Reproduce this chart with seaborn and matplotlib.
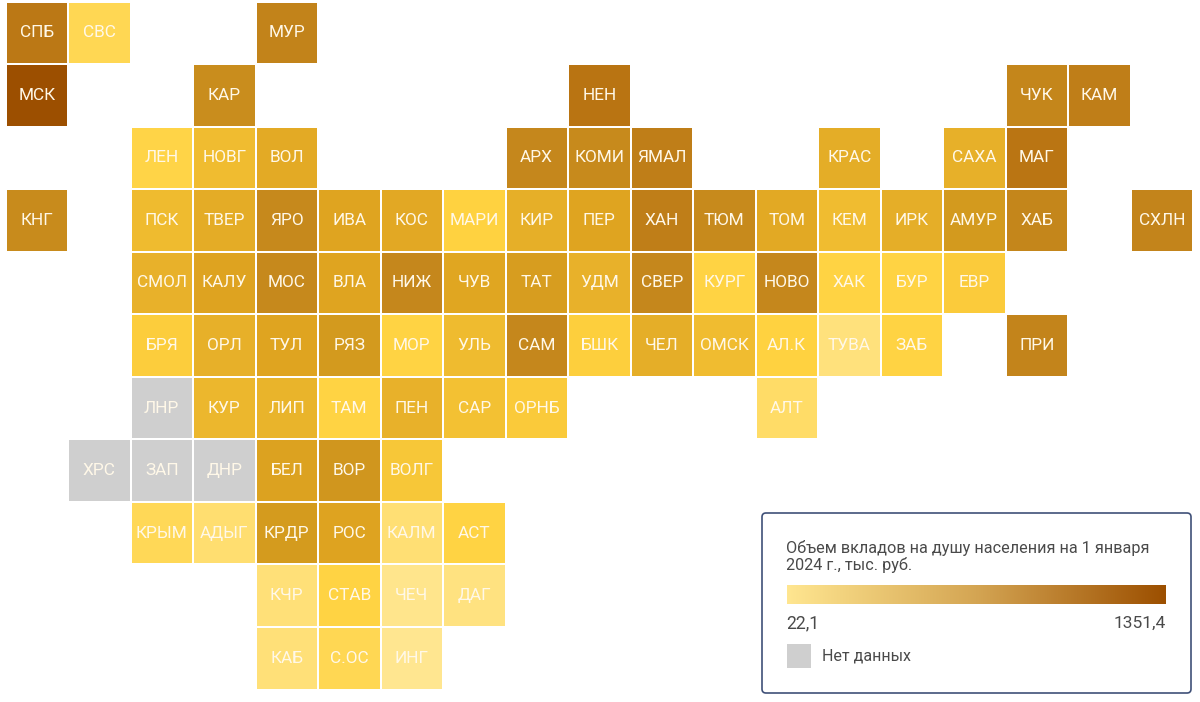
import matplotlib
matplotlib.use("Agg")
import matplotlib.pyplot as plt
import numpy as np
import pandas as pd
import seaborn as sns
from matplotlib.colors import LinearSegmentedColormap, ListedColormap
from matplotlib.patches import FancyBboxPatch, Rectangle

n = np.nan

# tile map rows, blank = no tile
labels_0 = ["СПБ", "СВС", "", "", "МУР", "", "", "", "", "", "", "", "", "", "", "", "", "", ""]
values_0 = [490, 100, n, n, 455, n, n, n, n, n, n, n, n, n, n, n, n, n, n]
labels_1 = ["МСК", "", "", "КАР", "", "", "", "", "", "НЕН", "", "", "", "", "", "", "ЧУК", "КАМ", ""]
values_1 = [1351.4, n, n, 420, n, n, n, n, n, 510, n, n, n, n, n, n, 445, 470, n]
labels_2 = ["", "", "ЛЕН", "НОВГ", "ВОЛ", "", "", "", "АРХ", "КОМИ", "ЯМАЛ", "", "", "КРАС", "", "САХА", "МАГ", "", ""]
values_2 = [n, n, 120, 200, 285, n, n, n, 440, 430, 470, n, n, 270, n, 255, 500, n, n]
labels_3 = ["КНГ", "", "ПСК", "ТВЕР", "ЯРО", "ИВА", "КОС", "МАРИ", "КИР", "ПЕР", "ХАН", "ТЮМ", "ТОМ", "КЕМ", "ИРК", "АМУР", "ХАБ", "", "СХЛН"]
values_3 = [425, n, 205, 275, 435, 320, 295, 130, 260, 320, 470, 430, 290, 200, 265, 365, 445, n, 450]
labels_4 = ["", "", "СМОЛ", "КАЛУ", "МОС", "ВЛА", "НИЖ", "ЧУВ", "ТАТ", "УДМ", "СВЕР", "КУРГ", "НОВО", "ХАК", "БУР", "ЕВР", "", "", ""]
values_4 = [n, n, 250, 325, 435, 320, 440, 310, 350, 250, 440, 125, 440, 125, 125, 150, n, n, n]
labels_5 = ["", "", "БРЯ", "ОРЛ", "ТУЛ", "РЯЗ", "МОР", "УЛЬ", "САМ", "БШК", "ЧЕЛ", "ОМСК", "АЛ.К", "ТУВА", "ЗАБ", "", "ПРИ", "", ""]
values_5 = [n, n, 145, 255, 320, 365, 125, 205, 440, 140, 265, 200, 130, 50, 125, n, 450, n, n]
labels_6 = ["", "", "ЛНР", "КУР", "ЛИП", "ТАМ", "ПЕН", "САР", "ОРНБ", "", "", "", "АЛТ", "", "", "", "", "", ""]
values_6 = [n, n, n, 220, 240, 125, 250, 185, 155, n, n, n, 75, n, n, n, n, n, n]
labels_7 = ["", "ХРС", "ЗАП", "ДНР", "БЕЛ", "ВОР", "ВОЛГ", "", "", "", "", "", "", "", "", "", "", "", ""]
values_7 = [n, n, n, n, 330, 385, 165, n, n, n, n, n, n, n, n, n, n, n, n]
labels_8 = ["", "", "КРЫМ", "АДЫГ", "КРДР", "РОС", "КАЛМ", "АСТ", "", "", "", "", "", "", "", "", "", "", ""]
values_8 = [n, n, 95, 65, 360, 325, 60, 125, n, n, n, n, n, n, n, n, n, n, n]
labels_9 = ["", "", "", "", "КЧР", "СТАВ", "ЧЕЧ", "ДАГ", "", "", "", "", "", "", "", "", "", "", ""]
values_9 = [n, n, n, n, 55, 125, 32, 48, n, n, n, n, n, n, n, n, n, n, n]
labels_10 = ["", "", "", "", "КАБ", "С.ОС", "ИНГ", "", "", "", "", "", "", "", "", "", "", "", ""]
values_10 = [n, n, n, n, 58, 100, 22.1, n, n, n, n, n, n, n, n, n, n, n, n]

no_data = ["ЛНР", "ХРС", "ЗАП", "ДНР"]

v_min, v_max = 22.1, 1351.4
legend_title = "Объем вкладов на душу населения на 1 января\n2024 г., тыс. руб."
no_data_label = "Нет данных"

GRAY = "#cfcfcf"
TEXT = "#4a4a4a"

sns.set_theme(style="white")
plt.rcParams["font.family"] = ["Roboto", "DejaVu Sans"]

labels = pd.DataFrame([labels_0, labels_1, labels_2, labels_3, labels_4, labels_5,
                       labels_6, labels_7, labels_8, labels_9, labels_10])
values = pd.DataFrame([values_0, values_1, values_2, values_3, values_4, values_5,
                       values_6, values_7, values_8, values_9, values_10], dtype=float)
is_gray = labels.isin(no_data)

# colours in the tiles are not linear in value, so the stops are bunched at the low end
stops = [22.1, 125, 200, 260, 320, 365, 440, 510, 1351.4]
colors = ["#ffe690", "#ffd240", "#f0bc30", "#e5ae28", "#dfa420", "#d39a1e", "#c5871c", "#b87312", "#9c4f00"]
tile_cmap = LinearSegmentedColormap.from_list(
    "tiles", [((s - v_min) / (v_max - v_min), c) for s, c in zip(stops, colors)]
)

W, H = 1200, 702
fig = plt.figure(figsize=(W / 100, H / 100), dpi=100, facecolor="white")
ax = fig.add_axes([5.5 / W, 1 - 689.5 / H, 1187.5 / W, 688 / H])

annot_kws = {"color": "#fff8e8", "fontsize": 12.4}
sns.heatmap(values, mask=values.isna(), cmap=tile_cmap, vmin=v_min, vmax=v_max, cbar=False,
            annot=labels, fmt="", annot_kws=annot_kws, linewidths=1.2, linecolor="white",
            square=False, ax=ax)
sns.heatmap(is_gray.astype(float), mask=~is_gray, cmap=ListedColormap([GRAY]), cbar=False,
            annot=labels, fmt="", annot_kws=annot_kws, linewidths=1.2, linecolor="white",
            square=False, ax=ax)
ax.set_axis_off()

# legend, placed in pixel coordinates
lg = fig.add_axes([0, 0, 1, 1], facecolor="none")
lg.set_xlim(0, W)
lg.set_ylim(H, 0)
lg.set_axis_off()
lg.add_patch(FancyBboxPatch((765, 516), 423, 174, boxstyle="round,pad=3,rounding_size=4",
                            facecolor="white", edgecolor="#3f5078", linewidth=1.2))
lg.text(786, 556.5, legend_title, fontsize=11.7, color=TEXT, va="center", ha="left", linespacing=1.1)
lg.text(786, 623, "22,1", fontsize=12.7, color=TEXT, va="center", ha="left")
lg.text(1166, 623, "1351,4", fontsize=12.5, color=TEXT, va="center", ha="right")
lg.add_patch(Rectangle((787, 644), 24, 24, facecolor=GRAY, edgecolor="none"))
lg.text(822, 656, no_data_label, fontsize=11.5, color=TEXT, va="center", ha="left")

bar = fig.add_axes([787 / W, 1 - 604 / H, 379 / W, 19 / H])
legend_cmap = LinearSegmentedColormap.from_list("legend", ["#ffe690", "#d4a553", "#9c4f00"])
bar.imshow(np.linspace(0, 1, 256)[None, :], aspect="auto", cmap=legend_cmap)
bar.set_axis_off()

fig.savefig("out.png", dpi=100)
plt.close(fig)
